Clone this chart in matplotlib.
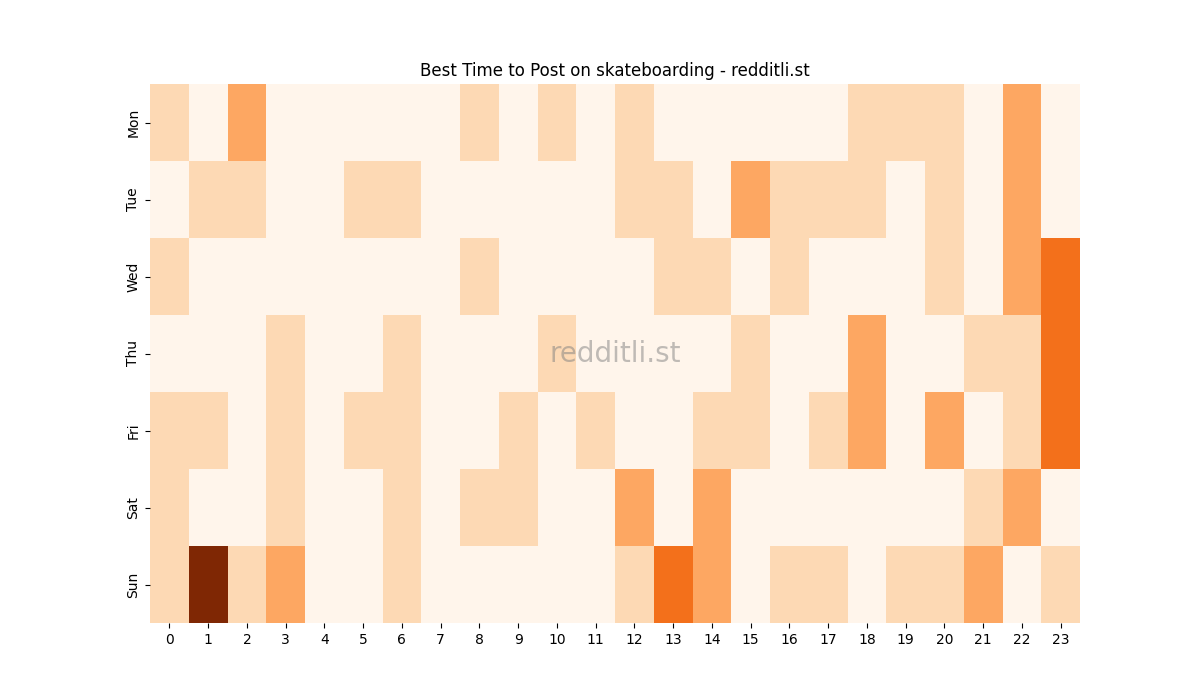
import matplotlib
matplotlib.use("Agg")
import matplotlib.pyplot as plt
import numpy as np
import seaborn as sns

days = ["Mon", "Tue", "Wed", "Thu", "Fri", "Sat", "Sun"]
hours = list(range(24))

mon = [1, 0, 2, 0, 0, 0, 0, 0, 1, 0, 1, 0, 1, 0, 0, 0, 0, 0, 1, 1, 1, 0, 2, 0]
tue = [0, 1, 1, 0, 0, 1, 1, 0, 0, 0, 0, 0, 1, 1, 0, 2, 1, 1, 1, 0, 1, 0, 2, 0]
wed = [1, 0, 0, 0, 0, 0, 0, 0, 1, 0, 0, 0, 0, 1, 1, 0, 1, 0, 0, 0, 1, 0, 2, 3]
thu = [0, 0, 0, 1, 0, 0, 1, 0, 0, 0, 1, 0, 0, 0, 0, 1, 0, 0, 2, 0, 0, 1, 1, 3]
fri = [1, 1, 0, 1, 0, 1, 1, 0, 0, 1, 0, 1, 0, 0, 1, 1, 0, 1, 2, 0, 2, 0, 1, 3]
sat = [1, 0, 0, 1, 0, 0, 1, 0, 1, 1, 0, 0, 2, 0, 2, 0, 0, 0, 0, 0, 0, 1, 2, 0]
sun = [1, 5, 1, 2, 0, 0, 1, 0, 0, 0, 0, 0, 1, 3, 2, 0, 1, 1, 0, 1, 1, 2, 0, 1]

data = np.array([mon, tue, wed, thu, fri, sat, sun])

fig, ax = plt.subplots(figsize=(12, 7), dpi=100)
sns.heatmap(data, cmap="Oranges", vmin=0, vmax=5, cbar=False,
            xticklabels=hours, yticklabels=days, ax=ax)
ax.set_title("Best Time to Post on skateboarding - redditli.st", fontsize=12)
ax.text(0.5, 0.5, "redditli.st", transform=ax.transAxes, ha="center",
        va="center", fontsize=20, color="gray", alpha=0.5)

fig.savefig("out.png")
